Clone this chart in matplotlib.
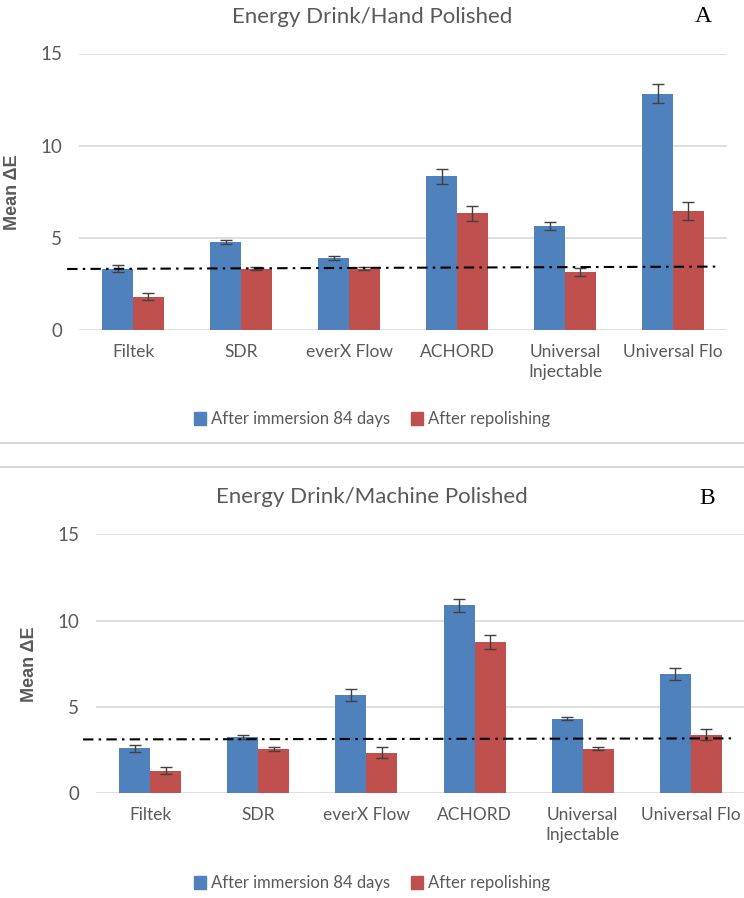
import numpy as np
import matplotlib
matplotlib.use("Agg")
import matplotlib.pyplot as plt
from matplotlib.lines import Line2D
from matplotlib.patches import Patch

# materiais e series
materials = ["Filtek", "SDR", "everX Flow", "ACHORD", "Universal\nInjectable", "Universal Flo"]
series_names = ["After immersion 84 days", "After repolishing"]

# painel A - Hand Polished
hand_immersion = [3.33, 4.76, 3.89, 8.34, 5.64, 12.82]
hand_immersion_err = [0.20, 0.12, 0.10, 0.40, 0.22, 0.50]
hand_repolish = [1.81, 3.33, 3.33, 6.33, 3.16, 6.46]
hand_repolish_err = [0.20, 0.08, 0.08, 0.40, 0.22, 0.50]
hand_ref_x = [-0.61, 5.40]
hand_ref_y = [3.31, 3.44]

# painel B - Machine Polished
mach_immersion = [2.61, 3.25, 5.69, 10.89, 4.33, 6.90]
mach_immersion_err = [0.21, 0.12, 0.33, 0.39, 0.10, 0.33]
mach_repolish = [1.32, 2.57, 2.36, 8.74, 2.59, 3.40]
mach_repolish_err = [0.21, 0.12, 0.33, 0.40, 0.10, 0.33]
mach_ref_x = [-0.62, 5.38]
mach_ref_y = [3.12, 3.18]

BLUE = "#4F81BD"
RED = "#C0504D"
GRAY_TXT = "#595959"
GRID = "#D9D9D9"
FONT = ["Lato", "DejaVu Sans"]

W, H = 744, 898
fig = plt.figure(figsize=(W / 100, H / 100), dpi=100)


def px_axes(left, top, right, bottom):
    return fig.add_axes([left / W, 1 - bottom / H, (right - left) / W, (bottom - top) / H])


def draw_panel(ax, title, letter, imm, imm_err, rep, rep_err, ref_x, ref_y,
               title_xy, letter_xy, legend_y):
    x = np.arange(len(materials))
    w = 0.287
    ax.bar(x - w / 2, imm, w, color=BLUE, zorder=2)
    ax.bar(x + w / 2, rep, w, color=RED, zorder=2)
    ax.errorbar(x - w / 2, imm, yerr=imm_err, fmt="none", ecolor="#404040",
                elinewidth=1, capsize=4, capthick=1, zorder=3)
    ax.errorbar(x + w / 2, rep, yerr=rep_err, fmt="none", ecolor="#404040",
                elinewidth=1, capsize=4, capthick=1, zorder=3)
    ax.plot(ref_x, ref_y, color="black", lw=1.5,
            linestyle=(0, (5, 2.5, 1.2, 2.5)), clip_on=False, zorder=4)

    ax.set_xlim(-0.5, 5.5)
    ax.set_ylim(0, 15)
    ax.set_yticks([0, 5, 10, 15])
    ax.yaxis.grid(True, color=GRID, lw=1.2)
    ax.set_axisbelow(True)
    for s in ax.spines.values():
        s.set_visible(False)
    ax.tick_params(length=0, colors=GRAY_TXT)
    ax.tick_params(axis="y", pad=12)
    ax.tick_params(axis="x", pad=10)
    ax.set_xticks(x)
    ax.set_xticklabels(materials, family=FONT, fontsize=12.5, color=GRAY_TXT,
                       linespacing=1.3)
    for lab in ax.get_yticklabels():
        lab.set_family(FONT)
        lab.set_fontsize(13.5)
        lab.set_color(GRAY_TXT)
    ax.set_ylabel("Mean ΔE", family=["Liberation Sans", "DejaVu Sans"],
                  fontweight="bold", fontsize=13, color=GRAY_TXT, labelpad=14)

    fig.text(title_xy[0] / W, 1 - title_xy[1] / H, title, family=FONT,
             fontsize=16, color=GRAY_TXT, ha="center", va="center")
    fig.text(letter_xy[0] / W, 1 - letter_xy[1] / H, letter,
             family=["Liberation Serif", "DejaVu Serif"], fontsize=17,
             color="black", ha="center", va="center")

    handles = [Patch(color=BLUE), Patch(color=RED)]
    fig.legend(handles, series_names, loc="center", ncol=2,
               bbox_to_anchor=(372 / W, 1 - legend_y / H), frameon=False,
               prop={"family": FONT, "size": 12}, labelcolor=GRAY_TXT,
               handlelength=0.7, handleheight=0.8, handletextpad=0.3,
               columnspacing=1.3)


ax_a = px_axes(79, 53.5, 727, 330)
draw_panel(ax_a, "Energy Drink/Hand Polished", "A",
           hand_immersion, hand_immersion_err, hand_repolish, hand_repolish_err,
           hand_ref_x, hand_ref_y, (372, 17), (703, 17), 419)

ax_b = px_axes(96, 534.3, 745, 793.3)
draw_panel(ax_b, "Energy Drink/Machine Polished", "B",
           mach_immersion, mach_immersion_err, mach_repolish, mach_repolish_err,
           mach_ref_x, mach_ref_y, (372, 497), (707, 499), 883)

# bordas dos graficos
for yy in (443, 467):
    fig.add_artist(Line2D([0, 1], [1 - yy / H, 1 - yy / H], color="#D9D9D9", lw=1.5))

fig.savefig("out.png", dpi=100)
